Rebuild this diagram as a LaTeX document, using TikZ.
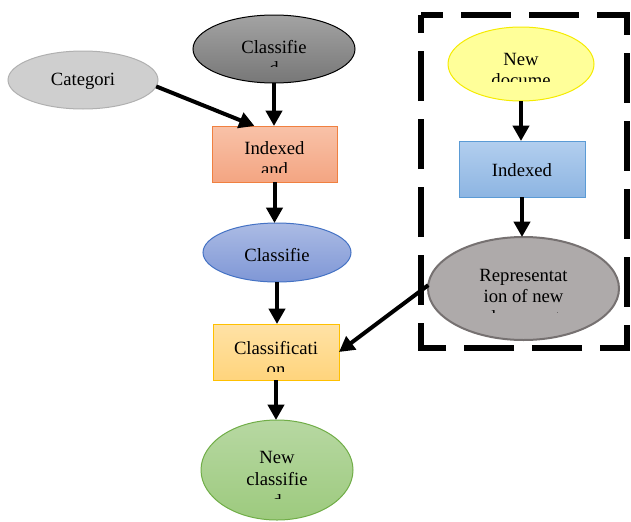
\documentclass[tikz,border=0pt]{standalone}
\usepackage{fontspec}
\setmainfont{Liberation Serif}
\usetikzlibrary{shapes.geometric,arrows.meta,calc}
\definecolor{dkTop}{HTML}{A3A3A3}\definecolor{dkBot}{HTML}{777777}
\definecolor{catFill}{HTML}{CFCFCF}\definecolor{catLine}{HTML}{B0B0B0}
\definecolor{salTop}{HTML}{F8C2A8}\definecolor{salBot}{HTML}{F4A582}\definecolor{salLine}{HTML}{F08040}
\definecolor{blTop}{HTML}{ABBBE4}\definecolor{blBot}{HTML}{7F97D6}\definecolor{blLine}{HTML}{4472C4}
\definecolor{orTop}{HTML}{FFE2A6}\definecolor{orBot}{HTML}{FFD47C}\definecolor{orLine}{HTML}{FFC000}
\definecolor{grTop}{HTML}{B7D8A2}\definecolor{grBot}{HTML}{9DCA7E}\definecolor{grLine}{HTML}{70AD47}
\definecolor{yeFill}{HTML}{FFFF99}\definecolor{yeLine}{HTML}{F5EB00}
\definecolor{ibTop}{HTML}{B2CEEE}\definecolor{ibBot}{HTML}{8DB5E2}\definecolor{ibLine}{HTML}{5B9BD5}
\definecolor{reFill}{HTML}{AEAAAA}\definecolor{reLine}{HTML}{767171}
\tikzset{
  lbl/.style={anchor=base, inner sep=0pt, font=\fontsize{14}{16}\selectfont},
  arr/.style={line width=3pt, -{Triangle[length=11.5pt,width=12pt]}},
  ell/.style={ellipse, inner sep=0pt, outer sep=0pt, line width=0.75pt},
  boxn/.style={rectangle, inner sep=0pt, outer sep=0pt, line width=0.75pt},
}
\begin{document}
\begin{tikzpicture}[x=0.75pt,y=-0.75pt]
\useasboundingbox (0,0) rectangle (631,521);

% dashed frame
\draw[line width=4.5pt, dash pattern=on 37.5pt off 13.5pt, dash phase=21pt]
  (421,15) -- (627,15) -- (627,348) -- (421,348) -- cycle;

% shapes
\node[ell, draw=black, top color=dkTop, bottom color=dkBot, minimum width=121.5pt, minimum height=51pt] (dark) at (274,49) {};
\node[ell, draw=catLine, fill=catFill, minimum width=112.5pt, minimum height=43.5pt] (categ) at (83,80) {};
\node[boxn, draw=salLine, top color=salTop, bottom color=salBot, minimum width=93.75pt, minimum height=42pt] (idx1) at (274.5,154) {};
\node[ell, draw=blLine, top color=blTop, bottom color=blBot, minimum width=111pt, minimum height=44.25pt] (blue) at (277,252.5) {};
\node[boxn, draw=orLine, top color=orTop, bottom color=orBot, minimum width=94.5pt, minimum height=42pt] (classif) at (276,352) {};
\node[ell, draw=grLine, top color=grTop, bottom color=grBot, minimum width=114pt, minimum height=75pt] (green) at (277,470) {};
\node[ell, draw=yeLine, fill=yeFill, minimum width=109.5pt, minimum height=55.5pt] (newdoc) at (521,64) {};
\node[boxn, draw=ibLine, top color=ibTop, bottom color=ibBot, minimum width=94.5pt, minimum height=42pt] (idx2) at (522,169) {};
\node[ell, draw=reLine, fill=reFill, line width=1.5pt, minimum width=143.25pt, minimum height=77.25pt] (repr) at (523.5,288.5) {};

% texts (clipped as in the picture)
\begin{scope}\clip (190,0) rectangle (360,66);
  \node[lbl] (tdk1) at (274,53) {Classifie};
  \node[lbl] (tdk2) at (274,74) {d};
\end{scope}
\node[lbl] (tcat) at (83,85) {Categori};
\begin{scope}\clip (210,120) rectangle (340,172);
  \node[lbl] (tix1) at (274.5,154) {Indexed};
  \node[lbl] (tix2) at (274.5,175) {and};
\end{scope}
\node[lbl] (tbl) at (277,261) {Classifie};
\begin{scope}\clip (210,320) rectangle (342,371);
  \node[lbl] (tcl1) at (276,354) {Classificati};
  \node[lbl] (tcl2) at (276,375) {on};
\end{scope}
\begin{scope}\clip (200,420) rectangle (355,498);
  \node[lbl] (tgr1) at (277,463) {New};
  \node[lbl] (tgr2) at (277,485) {classifie};
  \node[lbl] (tgr3) at (277,507) {d};
\end{scope}
\begin{scope}\clip (445,25) rectangle (600,81);
  \node[lbl] (tnd1) at (521,65) {New};
  \node[lbl] (tnd2) at (521,86) {docume};
\end{scope}
\node[lbl] (tix3) at (522,176) {Indexed};
\begin{scope}\clip (430,240) rectangle (620,312.5);
  \node[lbl] (tre1) at (523.5,281) {Representat};
  \node[lbl] (tre2) at (523.5,302) {ion of new};
  \node[lbl] (tre3) at (523.5,323) {document};
\end{scope}

% connectors
\draw[arr] (dark.south) -- (dark.south |- idx1.north);
\draw[arr] (categ.-5) -- ($(idx1.north west)!0.34!(idx1.north east)$);
\draw[arr] (idx1.south) -- (idx1.south |- blue.north);
\draw[arr] (blue.south) -- (blue.south |- classif.north);
\draw[arr] (classif.south) -- (classif.south |- green.north);
\draw[arr] (newdoc.south) -- (newdoc.south |- idx2.north);
\draw[arr] (idx2.south) -- (idx2.south |- repr.north);
\draw[arr] (repr.178) -- (classif.east);
\end{tikzpicture}
\end{document}
